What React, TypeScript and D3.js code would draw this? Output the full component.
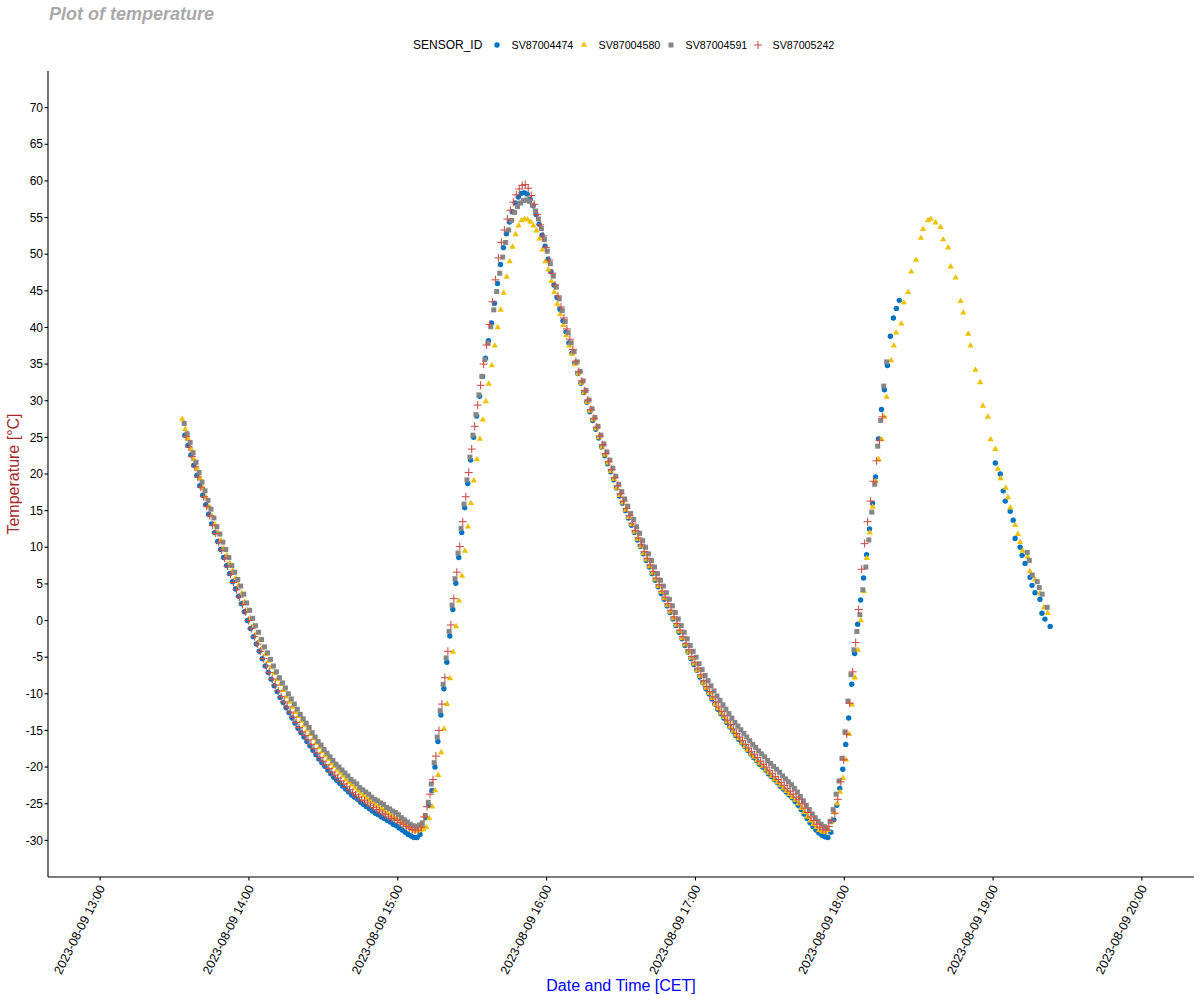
import React from 'react';
import * as d3 from 'd3';

const sensorIds = ['SV87004474', 'SV87004580', 'SV87004591', 'SV87005242'];
const sensorColors = ['#0073C2', '#EFC000', '#868686', '#CD534C'];
const sensorShapes = ['circle', 'triangle', 'square', 'plus'];

// all times are minutes after 2023-08-09 13:00 CET; dense runs are logged every 72 s
const STEP_MIN = 1.2;

const sv4474Start = 34.2;
const sv4474Temp = [
  25.3, 23.9, 22.6, 21.2, 19.8, 18.4, 17.1, 15.8, 14.5, 13.2,
  12.0, 10.8, 9.7, 8.6, 7.5, 6.4, 5.3, 4.3, 3.3, 2.3,
  1.2, 0.0, -1.1, -2.2, -3.2, -4.2, -5.2, -6.2, -7.1, -8.0,
  -8.9, -9.7, -10.5, -11.2, -11.9, -12.6, -13.3, -14.0, -14.7, -15.3,
  -15.9, -16.5, -17.1, -17.7, -18.3, -18.9, -19.4, -19.9, -20.4, -20.9,
  -21.4, -21.8, -22.2, -22.6, -23.0, -23.4, -23.8, -24.1, -24.4, -24.8,
  -25.1, -25.4, -25.7, -26.0, -26.3, -26.5, -26.8, -27.0, -27.3, -27.5,
  -27.8, -28.0, -28.3, -28.6, -28.9, -29.2, -29.4, -29.6, -29.6, -29.2,
  -28.3, -26.9, -25.2, -23.2, -20.0, -16.5, -12.9, -9.3, -5.7, -2.1,
  1.5, 5.1, 8.6, 12.0, 15.4, 18.7, 21.9, 25.0, 27.9, 30.6,
  33.3, 35.8, 38.2, 40.6, 43.3, 46.0, 48.6, 50.9, 52.8, 54.4,
  55.8, 57.0, 57.8, 58.3, 58.4, 58.2, 57.5, 56.6, 55.4, 54.1,
  52.6, 51.1, 49.3, 47.6, 45.8, 44.1, 42.5, 40.9, 39.4, 37.9,
  36.5, 35.1, 33.7, 32.4, 31.1, 29.8, 28.5, 27.3, 26.1, 24.9,
  23.7, 22.5, 21.4, 20.3, 19.2, 18.1, 17.0, 16.0, 15.0, 14.0,
  13.0, 12.0, 11.0, 10.1, 9.1, 8.2, 7.3, 6.4, 5.5, 4.6,
  3.7, 2.9, 2.0, 1.1, 0.2, -0.7, -1.6, -2.5, -3.4, -4.3,
  -5.2, -6.0, -6.8, -7.7, -8.5, -9.3, -10.0, -10.7, -11.4, -12.1,
  -12.7, -13.3, -13.9, -14.5, -15.1, -15.7, -16.2, -16.7, -17.2, -17.7,
  -18.2, -18.7, -19.1, -19.6, -20.0, -20.4, -20.9, -21.3, -21.7, -22.1,
  -22.6, -23.0, -23.4, -23.8, -24.2, -24.7, -25.2, -25.8, -26.4, -27.0,
  -27.6, -28.1, -28.6, -29.0, -29.3, -29.5, -29.6, -28.9, -27.2, -25.2,
  -22.9, -20.3, -16.9, -13.3, -8.7, -4.5, -0.5, 2.8, 5.8, 9.0,
  12.5, 16.0, 19.6, 24.8, 28.8, 31.5, 34.8, 38.8, 41.3, 42.6, 43.7,
];
const sv4474TailMin = [360.9, 362.9, 364.1, 364.9, 366.9, 368.1, 368.9, 370.9, 371.7, 372.9, 374.9, 375.7, 376.9, 378.9, 379.7, 380.9, 383.0];
const sv4474TailTemp = [21.5, 20.0, 17.7, 16.3, 14.9, 13.7, 11.2, 10.0, 8.9, 7.8, 5.9, 4.8, 3.8, 2.9, 1.0, 0.2, -0.8];

const sv4580Start = 33.1;
const sv4580Temp = [
  27.5, 26.1, 24.8, 23.4, 22.0, 20.7, 19.4, 18.1, 16.8, 15.5,
  14.3, 13.1, 12.0, 10.9, 9.8, 8.9, 7.8, 6.8, 5.8, 4.8,
  3.7, 2.5, 1.4, 0.3, -0.7, -1.7, -2.7, -3.7, -4.6, -5.5,
  -6.4, -7.2, -8.0, -8.7, -9.5, -10.4, -11.1, -11.8, -12.5, -13.1,
  -13.7, -14.3, -14.9, -15.5, -16.1, -16.7, -17.3, -17.9, -18.4, -18.9,
  -19.5, -19.9, -20.4, -20.8, -21.2, -21.7, -22.1, -22.4, -22.8, -23.2,
  -23.6, -23.9, -24.2, -24.5, -24.8, -25.1, -25.4, -25.6, -25.9, -26.2,
  -26.5, -26.7, -27.0, -27.3,
  -27.6, -27.9, -28.2, -28.5, -28.7, -28.7, -28.6, -28.5, -28.2, -27.0, -25.4, -23.2, -21.1,
  -18.0, -14.8, -11.4, -7.9, -4.3, -0.8, 2.7, 6.1, 9.5, 12.8, 16.0, 19.1, 22.0,
  24.8, 27.4, 29.9, 32.3, 34.8, 37.5, 40.0, 42.4, 44.7, 46.9,
  49.0, 51.0, 52.7, 53.9, 54.6, 54.8, 54.7, 54.4, 53.9, 53.2, 52.1, 50.6, 49.0,
  47.9, 46.3, 44.8, 43.2, 41.8, 40.3, 38.9, 37.5,
  36.4, 35.0, 33.7, 32.4, 31.1, 29.8, 28.6, 27.4, 26.2, 25.0,
  23.7, 22.6, 21.5, 20.4, 19.3, 18.1, 17.1, 16.1, 15.1, 14.1,
  13.1, 12.1, 11.1, 10.1, 9.2, 8.3, 7.4, 6.5, 5.6, 4.7,
  3.9, 3.0, 2.1, 1.2, 0.3, -0.6, -1.5, -2.4, -3.3, -4.3,
  -5.1, -5.9, -6.8, -7.6, -8.5, -9.2, -9.9, -10.6, -11.4, -12.0,
  -12.6, -13.2, -13.8, -14.5, -15.1, -15.6, -16.1, -16.7, -17.2, -17.7,
  -18.2, -18.6, -19.1, -19.5, -19.9, -20.4, -20.8, -21.2, -21.7, -22.1,
  -22.5, -22.9, -23.3, -23.7, -24.1, -24.5, -25.0, -25.6, -26.2, -26.8,
  -27.3, -27.8, -28.2, -28.6, -28.8, -28.9, -28.6, -27.5, -26.2, -25.0,
  -23.4, -21.5, -19.0, -15.5, -11.5, -7.8, -4.0, 0.0, 4.0, 8.5,
  12.0, 15.5, 19.0, 22.0,
];
const sv4580LateMin = [
  315.1, 316.1, 317.1, 318.9, 320.0, 320.9, 323.0, 324.0, 325.8, 327.0,
  328.9, 330.9, 331.8, 333.8, 334.9, 336.8, 338.8, 339.9, 341.9, 342.9,
  344.9, 346.9, 348.0, 350.0, 350.9, 352.9, 354.8, 355.9, 357.9, 359.0,
  360.9, 361.9, 363.0, 365.1, 366.0, 366.9, 368.9, 370.0, 370.9, 371.9,
  373.9, 374.8, 376.9, 378.9, 380.5, 382.0,
];
const sv4580LateTemp = [
  24.7, 27.8, 30.5, 35.5, 37.5, 39.3, 40.5, 43.4, 44.8, 47.6,
  49.2, 52.2, 53.4, 54.6, 54.8, 54.3, 53.7, 52.0, 50.9, 48.3,
  46.8, 43.6, 42.0, 39.1, 37.5, 34.2, 32.5, 29.3, 27.8, 24.7,
  23.4, 20.7, 19.4, 18.1, 16.8, 15.4, 13.0, 11.8, 10.7, 9.5,
  8.7, 6.7, 5.6, 3.7, 1.8, 1.0,
];

const sv4591Start = 33.9;
const sv4591Temp = [
  26.9, 25.5, 24.3, 22.9, 21.6, 20.2, 18.9, 17.7, 16.4, 15.2,
  14.0, 12.8, 11.8, 10.7, 9.7, 8.6, 7.5, 6.6, 5.6, 4.7,
  3.6, 2.4, 1.4, 0.3, -0.7, -1.6, -2.6, -3.6, -4.4, -5.3,
  -6.2, -7.0, -7.8, -8.5, -9.2, -10.0, -10.7, -11.4, -12.1, -12.8,
  -13.4, -14.0, -14.6, -15.3, -15.9, -16.5, -17.0, -17.6, -18.1, -18.6,
  -19.1, -19.6, -20.0, -20.4, -20.8, -21.2, -21.7, -22.0, -22.3, -22.8,
  -23.1, -23.4, -23.7, -24.1, -24.4, -24.6, -24.9, -25.1, -25.5, -25.7,
  -26.0, -26.2, -26.5, -26.9, -27.2, -27.5, -27.8, -28.0, -28.1, -27.9,
  -27.6, -26.6, -24.8, -22.3,
  -19.4, -15.9, -12.3, -8.7, -5.1, -1.5, 2.1, 5.7, 9.2, 12.6, 15.9, 19.2, 22.3, 25.3, 28.1, 30.8,
  33.3, 35.6, 37.9, 40.1, 42.4, 44.9, 47.4, 49.6, 51.6, 53.3,
  54.6, 55.7, 56.5, 57.0, 57.3, 57.4, 57.2, 56.7, 55.9, 54.8,
  53.5, 52.0, 50.4, 48.7, 47.0,
  45.5, 43.9, 42.3, 40.8, 39.3, 37.9,
  36.7, 35.3, 34.0, 32.7, 31.4, 30.1, 28.9, 27.7, 26.5, 25.3,
  24.1, 23.0, 21.9, 20.8, 19.7, 18.6, 17.6, 16.6, 15.6, 14.6,
  13.8, 12.8, 11.9, 10.9, 10.0, 9.1, 8.2, 7.3, 6.4, 5.5,
  4.7, 3.8, 2.9, 2.0, 1.1, 0.2, -0.7, -1.6, -2.5, -3.4,
  -4.2, -5.0, -5.9, -6.7, -7.5, -8.2, -8.9, -9.6, -10.3, -10.9,
  -11.5, -12.1, -12.7, -13.3, -13.9, -14.4, -14.9, -15.4, -15.9, -16.4,
  -16.9, -17.3, -17.8, -18.2, -18.6, -19.1, -19.5, -19.9, -20.3, -20.7,
  -21.2, -21.6, -22.0, -22.4, -22.9, -23.4, -24.0, -24.6, -25.2, -25.8,
  -26.4, -26.9, -27.4, -27.8, -28.1, -28.3, -27.4, -25.8, -23.7, -21.9,
  -18.8, -15.2, -11.0, -7.4, -4.0, -1.5, 0.8, 4.2, 7.3, 11.0,
  14.8, 18.6, 23.8, 27.3, 32.0, 35.3,
];
const sv4591TailMin = [373.8, 374.6, 375.8, 377.8, 378.6, 379.8, 381.8];
const sv4591TailTemp = [9.3, 8.2, 6.2, 5.3, 4.5, 3.6, 1.8];

const sv5242Start = 34.6;
const sv5242Temp = [
  25.1, 23.7, 22.4, 21.0, 19.6, 18.2, 16.9, 15.6, 14.3, 13.0,
  11.9, 10.7, 9.6, 8.5, 7.4, 6.3, 5.2, 4.2, 3.2, 2.2,
  1.2, 0.0, -1.1, -2.2, -3.2, -4.2, -5.2, -6.2, -7.1, -8.0,
  -8.8, -9.6, -10.4, -11.1, -11.8, -12.5, -13.2, -13.9, -14.6, -15.2,
  -15.7, -16.3, -16.9, -17.5, -18.1, -18.7, -19.2, -19.7, -20.2, -20.7,
  -21.1, -21.5, -21.9, -22.3, -22.7, -23.1, -23.5, -23.8, -24.1, -24.5,
  -24.6, -24.9, -25.2, -25.5, -25.8, -26.0, -26.3, -26.5, -26.8, -27.0,
  -27.1, -27.3, -27.6, -27.8, -28.1, -28.3, -28.5, -28.6, -28.6, -28.2,
  -26.8, -25.4, -23.7, -21.7, -18.5, -15.0, -11.4, -7.8, -4.2, -0.6,
  3.0, 6.6, 10.1, 13.5, 16.9, 20.2, 23.4, 26.5, 29.4, 32.1,
  35.0, 37.6, 40.4, 43.5, 46.5, 49.5, 51.6, 53.3, 54.8, 56.0,
  57.1, 58.1, 58.9, 59.4, 59.5, 59.0, 58.0, 56.8, 55.4, 54.0, 52.5, 50.9, 49.2, 47.4,
  45.8, 44.3, 42.8, 41.3, 39.8, 38.4, 37.0,
  35.4, 34.0, 32.7, 31.4, 30.1, 28.8, 27.6, 26.4, 25.2, 24.0,
  22.8, 21.7, 20.6, 19.5, 18.4, 17.3, 16.3, 15.3, 14.3, 13.3,
  12.3, 11.3, 10.4, 9.4, 8.5, 7.6, 6.7, 5.8, 4.9, 4.0,
  3.2, 2.3, 1.4, 0.5, -0.4, -1.3, -2.2, -3.1, -4.0, -4.9,
  -5.7, -6.5, -7.4, -8.2, -9.0, -9.7, -10.4, -11.1, -11.8, -12.4,
  -13.0, -13.6, -14.2, -14.8, -15.4, -15.9, -16.4, -16.9, -17.4, -17.9,
  -18.3, -18.7, -19.2, -19.6, -20.0, -20.5, -20.9, -21.3, -21.7, -22.1,
  -22.5, -22.9, -23.3, -23.7, -24.1, -24.4, -25.0, -25.6, -26.2, -26.8,
  -27.3, -27.8, -28.2, -28.5, -28.6, -28.1, -27.3, -26.3, -24.4, -22.0,
  -19.0, -15.5, -11.3, -7.0, -3.0, 1.5, 7.0, 10.5, 13.5, 16.3,
  19.0, 21.8, 24.6, 27.8,
];

const xTickTimes = ['13:00', '14:00', '15:00', '16:00', '17:00', '18:00', '19:00', '20:00'];
const yTickValues = [-30, -25, -20, -15, -10, -5, 0, 5, 10, 15, 20, 25, 30, 35, 40, 45, 50, 55, 60, 65, 70];

const BASE = new Date(2023, 7, 9, 13, 0, 0);
const atMin = (m: number) => new Date(BASE.getTime() + m * 60000);
const atClock = (hhmm: string) => {
  const [h, m] = hhmm.split(':').map(Number);
  return new Date(2023, 7, 9, h, m, 0);
};

type Pt = { time: Date; temp: number };
const run = (start: number, temps: number[]): Pt[] =>
  temps.map((v, i) => ({ time: atMin(start + i * STEP_MIN), temp: v }));
const pairs = (mins: number[], temps: number[]): Pt[] =>
  mins.map((m, i) => ({ time: atMin(m), temp: temps[i] }));

const seriesPoints: Pt[][] = [
  [...run(sv4474Start, sv4474Temp), ...pairs(sv4474TailMin, sv4474TailTemp)],
  [...run(sv4580Start, sv4580Temp), ...pairs(sv4580LateMin, sv4580LateTemp)],
  [...run(sv4591Start, sv4591Temp), ...pairs(sv4591TailMin, sv4591TailTemp)],
  run(sv5242Start, sv5242Temp),
];

const W = 1200;
const H = 1000;
const margin = { top: 71, right: 6, bottom: 123, left: 48 };
const FONT = "'Liberation Sans', Arial, Helvetica, sans-serif";

function Marker({ shape, color, cx, cy }: { shape: string; color: string; cx: number; cy: number }) {
  if (shape === 'circle') return <circle cx={cx} cy={cy} r={2.7} fill={color} />;
  if (shape === 'square') return <rect x={cx - 2.5} y={cy - 2.5} width={5} height={5} fill={color} />;
  if (shape === 'triangle') {
    const p = d3.symbol(d3.symbolTriangle, 17)();
    return <path d={p || ''} transform={`translate(${cx},${cy})`} fill={color} />;
  }
  return (
    <g stroke={color} strokeWidth={1.1}>
      <line x1={cx - 4} x2={cx + 4} y1={cy} y2={cy} />
      <line x1={cx} x2={cx} y1={cy - 4} y2={cy + 4} />
    </g>
  );
}

export default function App() {
  const limX = [atClock(xTickTimes[0]), atClock(xTickTimes[xTickTimes.length - 1])];
  const spanX = limX[1].getTime() - limX[0].getTime();
  const x = d3
    .scaleTime()
    .domain([new Date(limX[0].getTime() - spanX * 0.05), new Date(limX[1].getTime() + spanX * 0.05)])
    .range([margin.left, W - margin.right]);

  const yLim = [yTickValues[0], yTickValues[yTickValues.length - 1]];
  const ySpan = yLim[1] - yLim[0];
  const y = d3
    .scaleLinear()
    .domain([yLim[0] - ySpan * 0.05, yLim[1] + ySpan * 0.05])
    .range([H - margin.bottom, margin.top]);

  const fmt = d3.timeFormat('%Y-%m-%d %H:%M');
  const bottom = H - margin.bottom;
  const left = margin.left;

  return (
    <svg
      width={W}
      height={H}
      style={{ position: 'absolute', left: 0, top: 0, background: '#fff' }}
      fontFamily={FONT}
    >
      <rect width={W} height={H} fill="#fff" />
      <text x={49} y={20} fontSize={18} fontWeight="bold" fontStyle="italic" fill="#A9A9A9">
        Plot of temperature
      </text>

      {/* legend */}
      <g>
        <text x={413} y={49} fontSize={12} fill="#000">SENSOR_ID</text>
        {sensorIds.map((id, i) => {
          const kx = 497 + i * 87;
          return (
            <g key={id}>
              <Marker shape={sensorShapes[i]} color={sensorColors[i]} cx={kx} cy={45} />
              <text x={kx + 14.5} y={49} fontSize={10.7} fill="#000">{id}</text>
            </g>
          );
        })}
      </g>

      {/* points */}
      {seriesPoints.map((pts, si) => (
        <g key={sensorIds[si]}>
          {pts.map((p, i) => (
            <Marker key={i} shape={sensorShapes[si]} color={sensorColors[si]} cx={x(p.time)} cy={y(p.temp)} />
          ))}
        </g>
      ))}

      {/* y axis */}
      <g>
        <line x1={left} x2={left} y1={margin.top} y2={bottom} stroke="#000" strokeWidth={1.1} />
        {yTickValues.map((v) => (
          <g key={v}>
            <line x1={left - 3.5} x2={left} y1={y(v)} y2={y(v)} stroke="#000" strokeWidth={1.1} />
            <text x={left - 5} y={y(v)} dy="0.35em" textAnchor="end" fontSize={12} fill="#000">
              {v}
            </text>
          </g>
        ))}
      </g>

      {/* x axis */}
      <g>
        <line x1={left} x2={W - margin.right} y1={bottom} y2={bottom} stroke="#000" strokeWidth={1.1} />
        {xTickTimes.map((tt) => {
          const d = atClock(tt);
          const px = x(d);
          return (
            <g key={tt}>
              <line x1={px} x2={px} y1={bottom} y2={bottom + 3.5} stroke="#000" strokeWidth={1.1} />
              <text
                transform={`translate(${px + 1.5},${bottom + 9}) rotate(-63)`}
                textAnchor="end"
                dy="0.35em"
                fontSize={12.4}
                fill="#000"
              >
                {fmt(d)}
              </text>
            </g>
          );
        })}
      </g>

      <text
        transform={`translate(19,${(margin.top + bottom) / 2}) rotate(-90)`}
        textAnchor="middle"
        fontSize={16}
        fill="#A52A2A"
      >
        Temperature [°C]
      </text>
      <text x={(left + W - margin.right) / 2} y={991} textAnchor="middle" fontSize={16} fill="#0000FF">
        Date and Time [CET]
      </text>
    </svg>
  );
}
